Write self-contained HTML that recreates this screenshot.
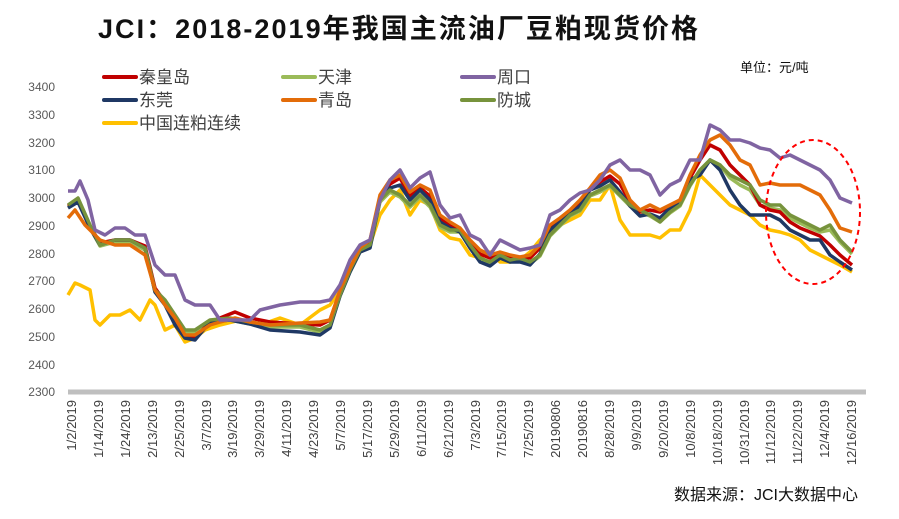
<!DOCTYPE html>
<html><head><meta charset="utf-8"><style>
body{margin:0;background:#fff;width:899px;height:514px;overflow:hidden;font-family:"Liberation Sans","Noto Sans CJK SC",sans-serif}
</style></head><body>
<svg width="899" height="514" xmlns="http://www.w3.org/2000/svg" font-family="Liberation Sans, Noto Sans CJK SC, sans-serif">
<text x="98" y="38" font-size="27" font-weight="bold" fill="#111" textLength="600" lengthAdjust="spacing">JCI：2018-2019年我国主流油厂豆粕现货价格</text>
<text x="740" y="72" font-size="13" fill="#111">单位：元/吨</text>
<g font-size="12" fill="#595959" text-anchor="end">
<text x="55" y="91">3400</text><text x="55" y="119">3300</text><text x="55" y="147">3200</text><text x="55" y="174">3100</text><text x="55" y="202">3000</text><text x="55" y="230">2900</text><text x="55" y="258">2800</text><text x="55" y="285">2700</text><text x="55" y="313">2600</text><text x="55" y="341">2500</text><text x="55" y="369">2400</text><text x="55" y="396">2300</text>
</g>
<line x1="68" y1="392" x2="866" y2="392" stroke="#bfbfbf" stroke-width="5"/>
<g font-size="13" fill="#404040">
<text transform="translate(76,400) rotate(-90)" text-anchor="end">1/2/2019</text>
<text transform="translate(103,400) rotate(-90)" text-anchor="end">1/14/2019</text>
<text transform="translate(130,400) rotate(-90)" text-anchor="end">1/24/2019</text>
<text transform="translate(157,400) rotate(-90)" text-anchor="end">2/13/2019</text>
<text transform="translate(184,400) rotate(-90)" text-anchor="end">2/25/2019</text>
<text transform="translate(211,400) rotate(-90)" text-anchor="end">3/7/2019</text>
<text transform="translate(237,400) rotate(-90)" text-anchor="end">3/19/2019</text>
<text transform="translate(264,400) rotate(-90)" text-anchor="end">3/29/2019</text>
<text transform="translate(291,400) rotate(-90)" text-anchor="end">4/11/2019</text>
<text transform="translate(318,400) rotate(-90)" text-anchor="end">4/23/2019</text>
<text transform="translate(345,400) rotate(-90)" text-anchor="end">5/7/2019</text>
<text transform="translate(372,400) rotate(-90)" text-anchor="end">5/17/2019</text>
<text transform="translate(399,400) rotate(-90)" text-anchor="end">5/29/2019</text>
<text transform="translate(426,400) rotate(-90)" text-anchor="end">6/11/2019</text>
<text transform="translate(453,400) rotate(-90)" text-anchor="end">6/21/2019</text>
<text transform="translate(480,400) rotate(-90)" text-anchor="end">7/3/2019</text>
<text transform="translate(506,400) rotate(-90)" text-anchor="end">7/15/2019</text>
<text transform="translate(533,400) rotate(-90)" text-anchor="end">7/25/2019</text>
<text transform="translate(560,400) rotate(-90)" text-anchor="end">20190806</text>
<text transform="translate(587,400) rotate(-90)" text-anchor="end">20190816</text>
<text transform="translate(614,400) rotate(-90)" text-anchor="end">8/28/2019</text>
<text transform="translate(641,400) rotate(-90)" text-anchor="end">9/9/2019</text>
<text transform="translate(668,400) rotate(-90)" text-anchor="end">9/20/2019</text>
<text transform="translate(695,400) rotate(-90)" text-anchor="end">10/8/2019</text>
<text transform="translate(722,400) rotate(-90)" text-anchor="end">10/18/2019</text>
<text transform="translate(749,400) rotate(-90)" text-anchor="end">10/31/2019</text>
<text transform="translate(775,400) rotate(-90)" text-anchor="end">11/12/2019</text>
<text transform="translate(802,400) rotate(-90)" text-anchor="end">11/22/2019</text>
<text transform="translate(829,400) rotate(-90)" text-anchor="end">12/4/2019</text>
<text transform="translate(856,400) rotate(-90)" text-anchor="end">12/16/2019</text>
</g>
<text x="858" y="500" font-size="16" fill="#111" text-anchor="end">数据来源：JCI大数据中心</text>
<g fill="none" stroke-width="3.5" stroke-linejoin="round">
<polyline stroke="#FFC000" points="68,295 75,283 80,285 90,290 95,320 100,325 110,315 120,315 130,310 140,320 150,300 155,305 165,330 175,325 185,342 195,338 205,330 220,325 240,320 260,325 280,318 300,325 320,310 330,305 340,290 350,270 360,250 370,245 380,215 390,200 400,190 410,215 420,200 430,205 440,230 450,238 460,240 470,255 480,258 490,252 500,262 510,262 520,260 530,252 540,240 550,232 560,225 570,220 580,215 590,200 600,200 610,185 620,220 630,235 640,235 650,235 660,238 670,230 680,230 690,210 700,175 710,185 720,195 730,205 740,210 750,215 760,225 770,230 780,232 790,235 800,240 810,250 820,255 830,260 840,265 852,272"/>
<polyline stroke="#9BBB59" points="68,207 78,200 90,228 100,246 115,242 130,242 145,250 155,292 165,302 175,318 185,332 195,332 210,322 230,320 250,324 270,327 300,327 320,332 330,326 340,296 350,272 360,252 370,247 380,202 390,192 400,197 410,207 420,197 430,207 440,227 450,232 460,232 470,247 480,260 490,263 500,257 510,262 520,260 530,264 540,256 550,236 560,226 570,216 580,211 590,196 600,192 610,186 620,196 630,206 640,211 650,216 660,222 670,213 680,206 690,186 700,170 710,160 720,165 730,178 740,185 750,190 760,205 770,208 780,210 790,218 800,223 810,228 820,232 830,230 840,242 852,254"/>
<polyline stroke="#C00000" points="68,206 78,200 90,226 100,243 115,240 130,240 145,246 155,288 165,302 175,322 185,338 195,338 210,322 220,318 235,312 250,318 270,322 300,324 320,325 330,320 340,292 350,270 360,250 370,244 380,198 390,184 400,178 410,196 420,188 430,196 440,218 450,226 460,230 470,244 480,254 490,258 500,254 510,258 520,258 530,258 540,248 550,228 560,220 570,212 580,204 590,190 600,182 610,176 620,184 630,202 640,212 650,210 660,212 670,206 680,200 690,178 700,160 710,145 720,150 730,165 740,175 750,185 760,205 770,210 780,212 790,222 800,228 810,232 820,236 830,245 840,255 852,265"/>
<polyline stroke="#1F3864" points="68,208 78,202 90,228 100,245 115,240 130,240 145,248 155,292 165,305 175,325 185,338 195,340 210,322 230,320 250,324 270,330 300,332 320,335 330,328 340,296 350,272 360,252 370,248 380,200 390,188 400,185 410,200 420,190 430,200 440,222 450,228 460,232 470,248 480,262 490,266 500,258 510,262 520,262 530,265 540,254 550,230 560,222 570,214 580,206 590,190 600,186 610,180 620,192 630,206 640,216 650,214 660,218 670,208 680,202 690,180 700,175 710,160 720,170 730,190 740,205 750,215 760,215 770,215 780,220 790,230 800,235 810,240 820,240 830,255 840,262 852,270"/>
<polyline stroke="#77933C" points="68,205 78,198 90,225 100,245 115,240 130,240 145,248 155,290 165,300 175,315 185,330 195,330 210,320 230,318 250,322 270,325 300,325 320,330 330,325 340,295 350,270 360,250 370,245 380,200 390,190 400,195 410,205 420,195 430,205 440,225 450,230 460,230 470,245 480,258 490,262 500,255 510,260 520,258 530,262 540,255 550,235 560,225 570,215 580,210 590,195 600,190 610,185 620,195 630,205 640,210 650,215 660,222 670,212 680,205 690,185 700,170 710,160 720,165 730,175 740,180 750,185 760,200 770,205 780,205 790,215 800,220 810,225 820,230 830,225 840,240 852,252"/>
<polyline stroke="#E36C09" points="68,218 75,210 85,225 100,240 115,245 130,245 145,255 155,290 165,305 175,318 185,335 195,335 210,325 220,322 235,318 250,322 270,325 300,323 320,322 330,320 340,290 350,268 360,248 370,240 380,195 390,180 400,175 410,192 420,185 430,190 440,215 450,222 460,228 470,240 480,250 490,255 500,252 510,255 520,257 530,255 540,245 550,225 560,218 570,210 580,200 590,188 600,175 610,170 620,178 630,200 640,210 650,205 660,210 670,205 680,200 690,175 700,155 710,140 720,135 730,145 740,160 750,165 760,185 770,183 780,185 790,185 800,185 810,190 820,195 830,210 840,228 852,232"/>
<polyline stroke="#8064A2" points="68,191 75,191 80,181 88,200 95,230 105,235 115,228 125,228 135,235 145,235 155,265 165,275 175,275 185,300 195,305 210,305 220,320 230,320 240,320 250,320 260,310 280,305 300,302 320,302 330,300 340,285 350,260 360,245 370,240 380,200 390,180 400,170 410,188 420,178 430,172 440,205 450,218 460,215 470,235 480,240 490,255 500,240 510,245 520,250 530,248 540,245 550,215 560,210 570,200 580,193 590,190 600,180 610,165 620,160 630,170 640,170 650,175 660,195 670,185 680,180 690,160 700,160 710,125 720,130 730,140 740,140 750,143 760,148 770,150 780,158 790,155 800,160 810,165 820,170 830,180 840,198 852,203"/>
</g>
<ellipse cx="813" cy="212" rx="47" ry="72" fill="none" stroke="#FF0000" stroke-width="2" stroke-dasharray="5,4"/>
<g stroke-width="4" stroke-linecap="round">
<line x1="104" y1="77" x2="136" y2="77" stroke="#C00000"/>
<line x1="104" y1="100" x2="136" y2="100" stroke="#1F3864"/>
<line x1="104" y1="123" x2="136" y2="123" stroke="#FFC000"/>
<line x1="283" y1="77" x2="315" y2="77" stroke="#9BBB59"/>
<line x1="283" y1="100" x2="315" y2="100" stroke="#E36C09"/>
<line x1="462" y1="77" x2="494" y2="77" stroke="#8064A2"/>
<line x1="462" y1="100" x2="494" y2="100" stroke="#77933C"/>
</g>
<g font-size="17" fill="#404040">
<text x="139" y="83">秦皇岛</text><text x="139" y="106">东莞</text><text x="139" y="129">中国连粕连续</text>
<text x="318" y="83">天津</text><text x="318" y="106">青岛</text>
<text x="497" y="83">周口</text><text x="497" y="106">防城</text>
</g>
</svg>
</body></html>
